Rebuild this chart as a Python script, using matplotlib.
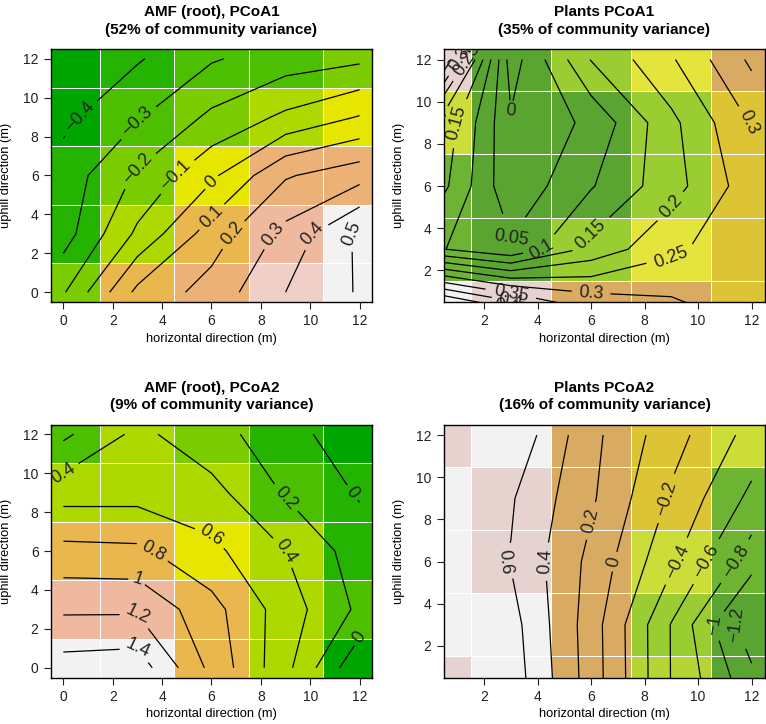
import numpy as np
import matplotlib
matplotlib.use('Agg')
import matplotlib.pyplot as plt
from matplotlib.colors import ListedColormap, BoundaryNorm

plt.rcParams['font.family'] = ['Liberation Sans', 'DejaVu Sans']

# sampling grid (m), same for the four maps
x_pos = [0, 3, 6, 9, 12]
y_pos = [0, 3, 6, 9, 12]

# rows go from y=0 (bottom) to y=12 (top)
amf1 = [[-0.21, 0.126, 0.24, 0.40, 0.51],
        [-0.345, -0.08, 0.15, 0.33, 0.52],
        [-0.357, -0.186, -0.02, 0.19, 0.26],
        [-0.425, -0.31, -0.18, -0.08, 0.006],
        [-0.50, -0.41, -0.31, -0.25, -0.22]]
amf1_levels = [-0.4, -0.3, -0.2, -0.1, 0, 0.1, 0.2, 0.3, 0.4, 0.5]

amf2 = [[1.485, 1.514, 0.945, 0.46, -0.17],
        [1.17, 1.17, 0.87, 0.50, 0.16],
        [0.857, 0.84, 0.65, 0.40, 0.10],
        [0.52, 0.525, 0.465, 0.18, -0.02],
        [0.16, 0.45, 0.27, 0.09, -0.15]]
amf2_levels = [0, 0.2, 0.4, 0.6, 0.8, 1.0, 1.2, 1.4]

# plants: fitted surface (contours) and observed cell values (image)
plants1_surf = [[0.60, 0.478, 0.36, 0.32, 0.28],
                [0.11, 0.058, 0.166, 0.24, 0.285],
                [0.19, 0.012, 0.096, 0.18, 0.278],
                [0.22, 0.006, 0.061, 0.187, 0.304],
                [0.48, -0.025, 0.152, 0.244, 0.36]]
plants1_cells = [[0.425, 0.375, 0.325, 0.32, 0.275],
                 [0.025, -0.02, 0.075, 0.225, 0.275],
                 [0.025, -0.025, -0.015, 0.075, 0.275],
                 [0.175, -0.025, -0.01, 0.075, 0.275],
                 [0.375, -0.02, 0.075, 0.225, 0.325]]
plants1_levels = [0, 0.05, 0.1, 0.15, 0.2, 0.25, 0.3, 0.35, 0.4, 0.45, 0.5, 0.55]

plants2_surf = [[0.79, 0.72, 0.11, -0.607, -1.11],
                [0.76, 0.68, 0.10, -0.61, -1.34],
                [0.72, 0.59, 0.146, -0.36, -0.91],
                [0.75, 0.62, 0.23, -0.23, -0.65],
                [0.78, 0.765, 0.256, -0.118, -0.47]]
plants2_cells = [[0.5, 0.7, 0.3, -0.5, -1.1],
                 [0.7, 0.7, 0.3, -0.7, -1.1],
                 [0.7, 0.5, 0.3, -0.3, -0.9],
                 [0.7, 0.5, 0.3, 0.1, -0.9],
                 [0.5, 0.7, 0.3, 0.1, -0.3]]
plants2_levels = [-1.2, -1.0, -0.8, -0.6, -0.4, -0.2, 0, 0.2, 0.4, 0.6]

terrain12 = ['#00A600', '#24B300', '#4CBF00', '#7ACC00', '#ADD900', '#E6E600',
             '#E8C727', '#EAB64E', '#ECB176', '#EEB99F', '#F0CFC8', '#F2F2F2']
muted10 = ['#5AA532', '#6CB432', '#9ACD32', '#B5D535', '#CCDC38', '#E4E43C',
           '#DDC434', '#D9AB62', '#E6D2CE', '#F2F2F2']


def fmt(v):
    return '{:g}'.format(round(v, 3)).replace('-', '\u2212')


def panel(rect, cells, surf, levels, colors, title, lim, ticks):
    ax = fig.add_axes(rect)
    c = np.array(cells)
    cmap = ListedColormap(colors)
    norm = BoundaryNorm(np.linspace(c.min(), c.max(), len(colors) + 1), len(colors))
    ax.pcolormesh(x_pos, y_pos, c, cmap=cmap, norm=norm, shading='nearest',
                  edgecolors='white', linewidth=0.7)
    cs = ax.contour(x_pos, y_pos, np.array(surf), levels=levels,
                    colors='black', linewidths=0.9, linestyles='solid')
    ax.clabel(cs, fmt=fmt, fontsize=13, inline=True, inline_spacing=3,
              colors='#222222')
    ax.set_xlim(lim)
    ax.set_ylim(lim)
    ax.set_xticks(ticks)
    ax.set_yticks(ticks)
    ax.tick_params(direction='out', length=5, width=0.8, labelsize=10,
                   pad=4, colors='#222222')
    ax.set_xlabel('horizontal direction (m)', fontsize=9.3, labelpad=3)
    ax.set_ylabel('uphill direction (m)', fontsize=9.3, labelpad=8)
    ax.set_title(title, fontsize=11, fontweight='bold', pad=11, linespacing=1.3)
    for sp in ax.spines.values():
        sp.set_linewidth(1.0)
    return ax


fig = plt.figure(figsize=(7.66, 7.24), dpi=100)
w, h = 0.419, 0.3494
left_ticks = [0, 2, 4, 6, 8, 10, 12]
right_ticks = [2, 4, 6, 8, 10, 12]

panel([0.0666, 0.5829, w, h], amf1, amf1, amf1_levels, terrain12,
      'AMF (root), PCoA1\n(52% of community variance)', (-0.5, 12.5), left_ticks)
panel([0.5796, 0.5829, w, h], plants1_cells, plants1_surf, plants1_levels, muted10,
      'Plants PCoA1\n(35% of community variance)', (0.5, 12.5), right_ticks)
panel([0.0666, 0.0642, w, h], amf2, amf2, amf2_levels, terrain12,
      'AMF (root), PCoA2\n(9% of community variance)', (-0.5, 12.5), left_ticks)
panel([0.5796, 0.0642, w, h], plants2_cells, plants2_surf, plants2_levels, muted10,
      'Plants PCoA2\n(16% of community variance)', (0.5, 12.5), right_ticks)

plt.savefig('out.png', dpi=100)
